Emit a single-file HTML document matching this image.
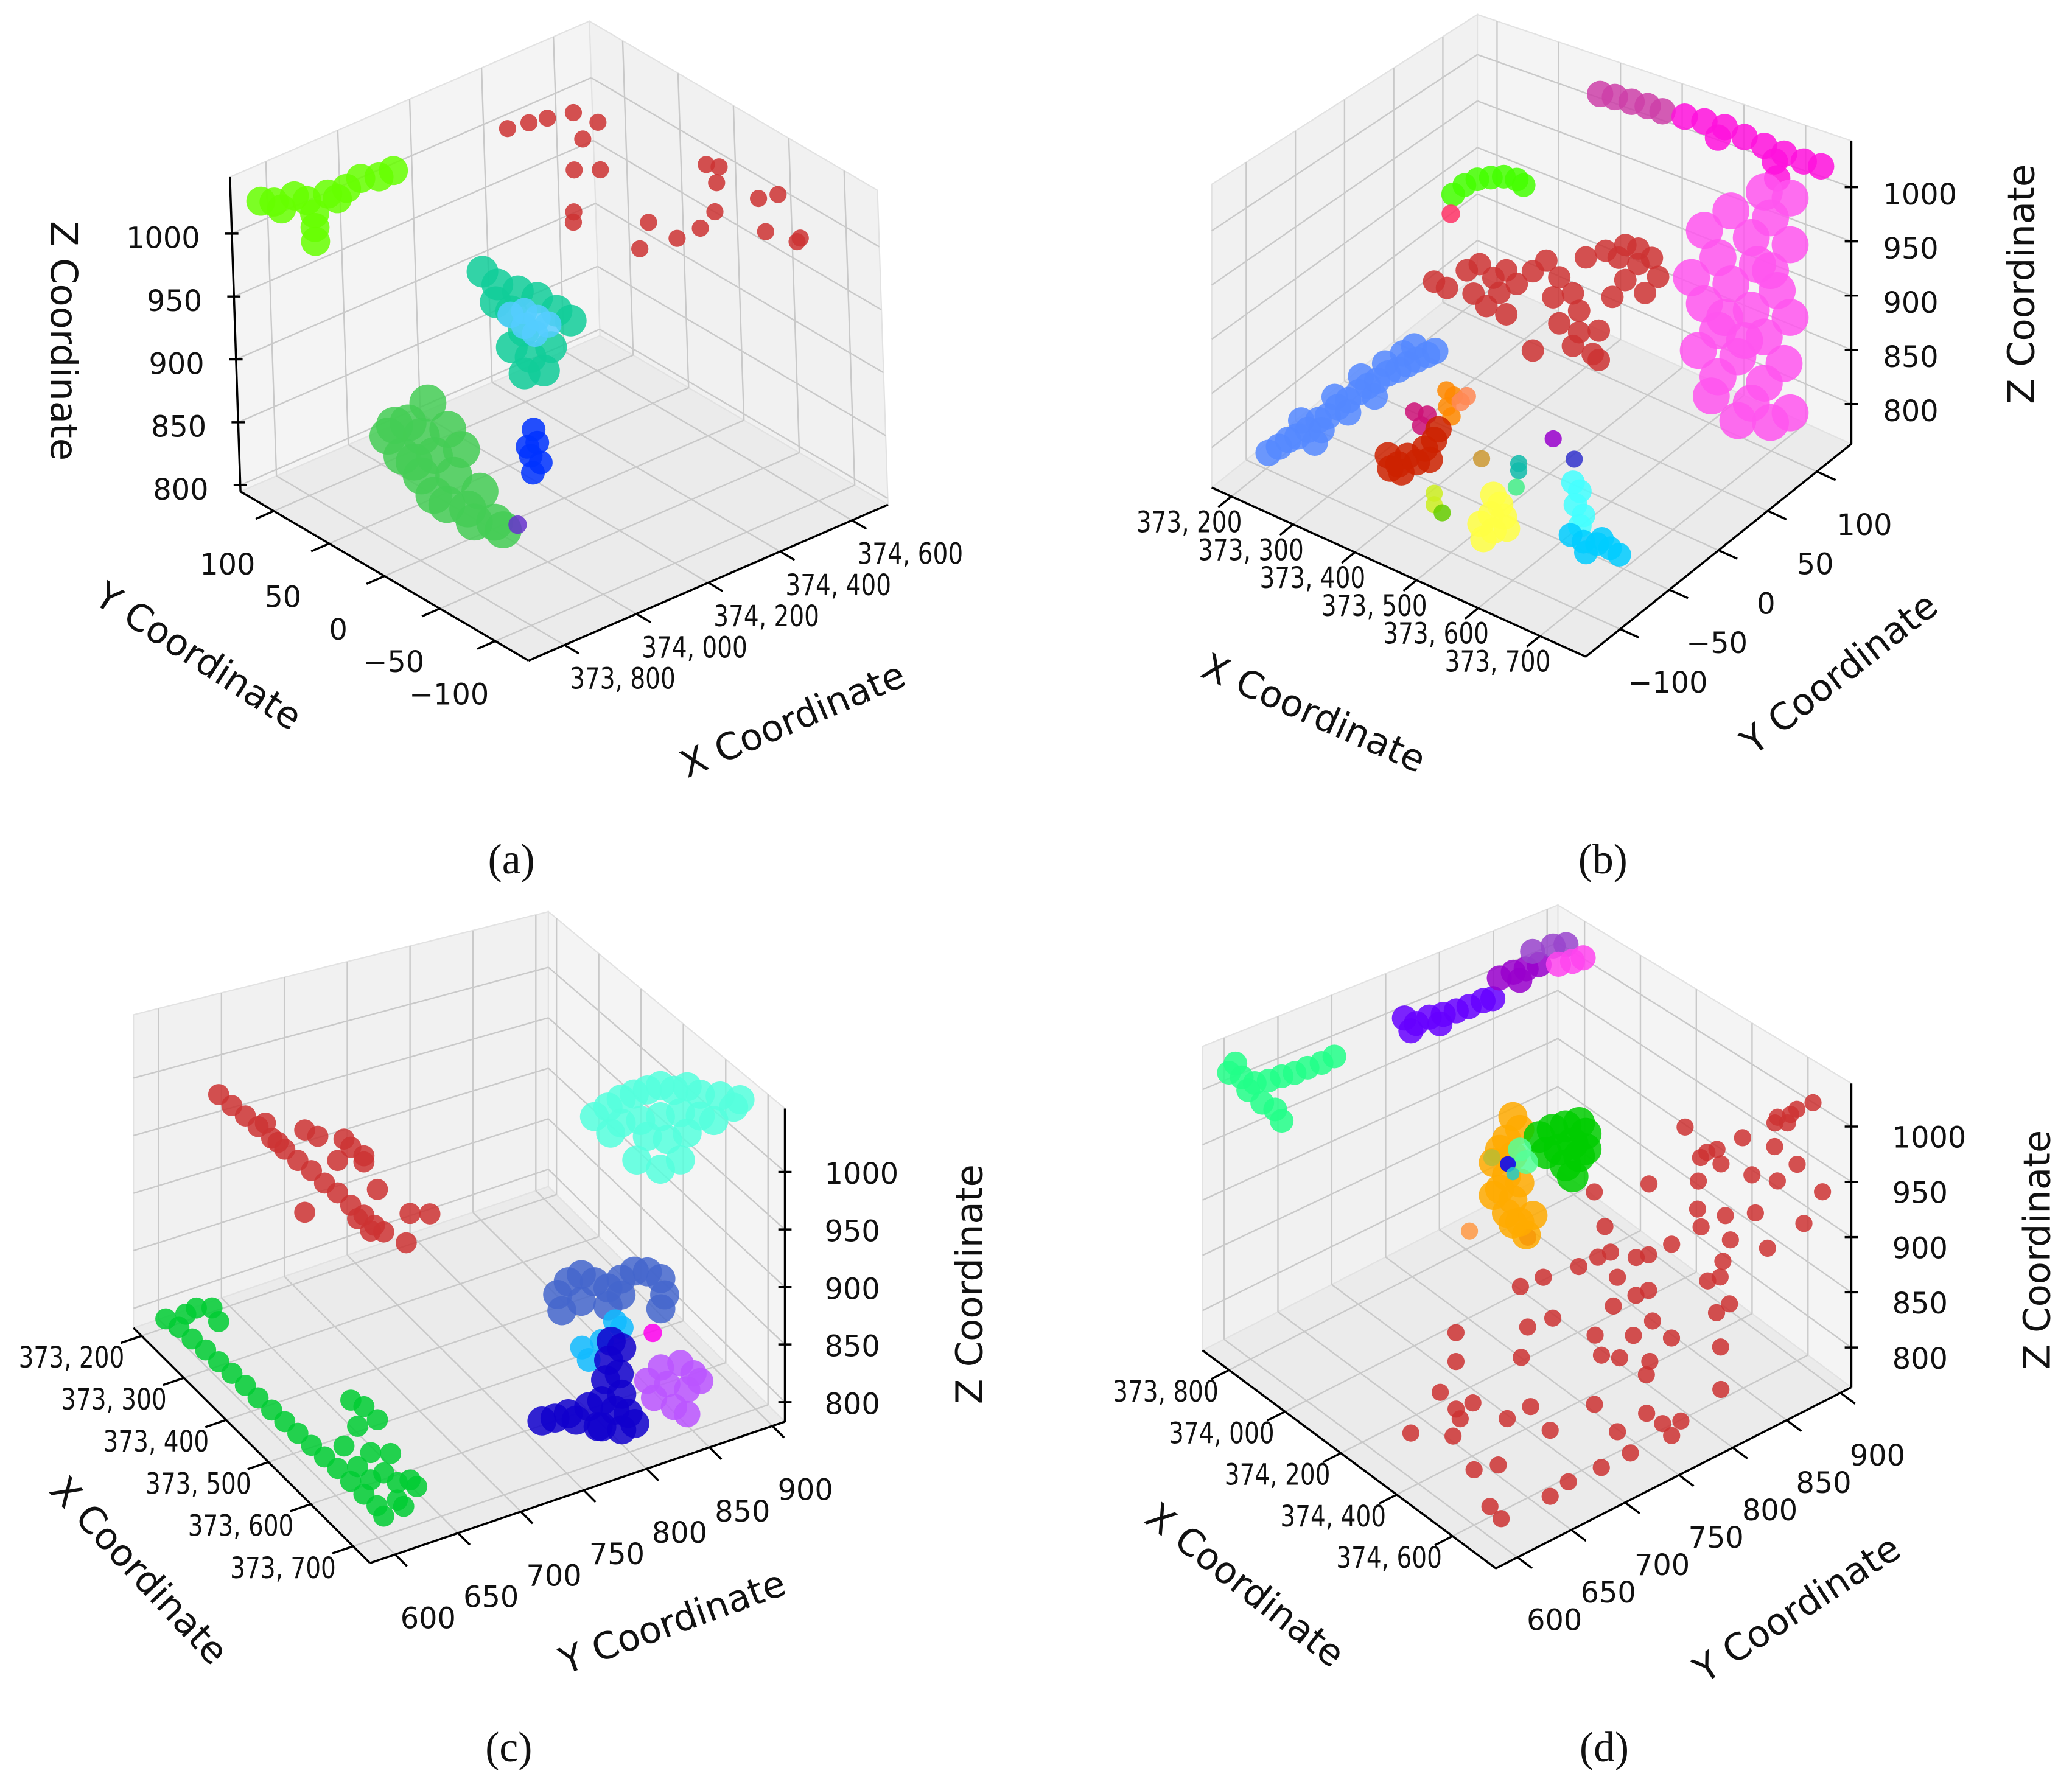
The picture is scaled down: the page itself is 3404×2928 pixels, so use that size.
<!DOCTYPE html>
<html><head><meta charset="utf-8"><style>
html,body{margin:0;padding:0;background:#fff;}
svg{display:block;}
</style></head><body>
<svg id="fig" xmlns="http://www.w3.org/2000/svg" width="3404" height="2928" viewBox="0 0 1568 1348.7">
<rect x="0" y="0" width="1568" height="1348.7" fill="#fff"/>
</svg>
<script>
// ---------- Panel (a) data ----------
const aXTicks=[373800,374000,374200,374400,374600];
const aYTicks=[-100,-50,0,50,100];
const aZTicks=[800,850,900,950,1000];
const aRed=[[374320,81,1032],[374370,78,1032],[374412,75,1032],[374469,70,1032],[374482,52,1032],[374412,43,1032],[374314,19,1032],[374199,-18,1032],[374170,-27,1032],[374356,9,1032],[374204,-76,1032],[374292,-81,1032],[374357,-81,1032],[374425,-72,1032],[374507,-47,1032],[374540,-27,1032],[374554,-34,1032],[374531,-77,1032],[374573,-81,1032],[374452,-109,1032],[374475,-130,1032],[374490,-128,1032],[374290,-56,1032]];
const aLime=[[373744,117,1027],[373836,117,1020],[373928,117,1010],[374020,117,1011],[374110,117,1006],[373800,117,1014],[373890,117,999],[373890,117,977],[373954,117,1003],[373780,117,1022],[373870,117,1012],[373980,117,1008],[374070,117,1006],[373890,117,988]];
const aTeal=[[374226,77,932],[374215,60,932],[374229,46,932],[374242,33,932],[374238,14,932],[374234,0,932],[374164,31,932],[374131,9,932],[374067,-1,932],[374070,-17,932],[374016,-29,932],[374055,-34,932],[374130,-16,932],[374164,45,932]];
const aLightBlue=[[374153,28,932],[374185,26,932],[374188,15,932],[374187,5,932],[374145,13,932],[374141,2,932]];
const aGreen=[[374073,80,845],[373987,70,845],[373919,66,845],[373972,53,845],[374033,49,845],[373887,43,845],[373940,31,845],[374000,26,845],[373864,18,845],[373917,6,845],[373916,-18,845],[373831,-4,845],[373848,-29,845],[373855,-51,845],[373848,-61,845],[373959,73,845],[373890,33,845],[373827,-17,845],[373823,-43,845]];
const aBlue=[[374170,16,845],[374140,3,845],[374094,-6,845],[374091,-16,845],[374051,-22,845],[374113,3,845]];
const aPurple=[[373885,-62,845]];

// ---------- Panel (b) data ----------
const bXTicks=[373200,373300,373400,373500,373600,373700];
const bYTicks=[-100,-50,0,50,100];
const bZTicks=[800,850,900,950,1000];
const bViolet=[[373410,108,1031],[373434,108,1033],[373461,108,1034],[373487,108,1035],[373511,108,1035]];
const bMagenta=[[373547,108,1037],[373579,108,1039],[373612,108,1040],[373644,108,1037],[373676,108,1035],[373708,108,1034],[373740,108,1033],[373768,108,1034],[373693,108,1024],[373601,108,1028],[373697,108,1009]];
const bPink=[[373676,108,992],[373718,108,995],[373622,108,963],[373686,108,970],[373579,108,935],[373655,108,945],[373718,108,952],[373601,108,914],[373665,108,922],[373558,108,885],[373622,108,894],[373697,108,905],[373579,108,865],[373655,108,877],[373718,108,885],[373601,108,845],[373676,108,857],[373569,108,818],[373633,108,828],[373708,108,840],[373601,108,801],[373676,108,814],[373590,108,780],[373655,108,790],[373718,108,797],[373633,108,768],[373686,108,780],[373612,108,860],[373686,108,921],[373644,108,846]];
const bLime=[[373215,81,903],[373233,81,917],[373254,81,928],[373276,81,935],[373297,81,941],[373318,81,943],[373329,81,940]];
const bPinkRed=[[373211,81,882]];
const bRed=[[373270,27,868],[373291,27,867],[373323,27,892],[373344,27,903],[373366,27,895],[373387,27,907],[373334,27,872],[373376,27,883],[373404,27,898],[373355,27,865],[373387,27,865],[373430,27,916],[373452,27,931],[373473,27,920],[373495,27,910],[373463,27,899],[373516,27,948],[373505,27,896],[373548,27,961],[373569,27,959],[373601,27,960],[373623,27,970],[373633,27,955],[373580,27,941],[373612,27,936],[373559,27,921],[373473,27,877],[373505,27,876],[373537,27,885],[373495,27,861],[373527,27,861],[373537,27,858],[373430,27,841],[373580,27,973],[373601,27,974]];
const bBlue=[[373217,-108,788],[373234,-108,798],[373249,-108,808],[373264,-108,815],[373281,-108,825],[373298,-108,838],[373313,-108,845],[373329,-108,857],[373346,-108,867],[373363,-108,878],[373378,-108,887],[373393,-108,895],[373410,-108,905],[373427,-108,912],[373442,-108,920],[373457,-108,927],[373474,-108,935],[373487,-108,941],[373270,-108,831],[373303,-108,830],[373324,-108,865],[373367,-108,893],[373406,-108,913],[373435,-108,928],[373453,-108,938],[373389,-108,880],[373346,-108,856],[373292,-108,816]];
const bDarkMagenta=[[373431,-94,867],[373452,-94,869],[373442,-94,857]];
const bOrange=[[373483,-94,897],[373495,-94,895],[373484,-94,883],[373491,-94,876]];
const bSalmon=[[373506,-94,892],[373516,-94,899]];
const bDarkRed=[[373388,-94,818],[373405,-94,814],[373420,-94,825],[373435,-94,823],[373448,-94,838],[373463,-94,849],[373470,-94,860],[373410,-94,808],[373392,-94,807],[373456,-94,830]];
const bGold=[[373540,-94,850]];
const bTeal=[[373600,-94,859],[373600,-94,853]];
const bMint=[[373596,-94,838]];
const bPurple=[[373656,-94,892]];
const bNavy=[[373690,-94,882]];
const bYellowGreen=[[373463,-94,802],[373463,-94,792]];
const bGreen=[[373476,-94,788]];
const bYellow=[[373559,-94,823],[373570,-94,817],[373555,-94,805],[373576,-94,808],[373538,-94,793],[373559,-94,792],[373543,-94,781],[373581,-94,799]];
const bCyan=[[373688,-94,862],[373699,-94,857],[373692,-94,844],[373705,-94,838],[373699,-94,828]];
const bSky=[[373684,-94,817],[373705,-94,816],[373727,-94,819],[373748,-94,820],[373763,-94,818],[373709,-94,808],[373735,-94,825]];

// ---------- Panel (c) data ----------
const cXTicks=[373200,373300,373400,373500,373600,373700];
const cYTicks=[600,650,700,750,800,850,900];
const cZTicks=[800,850,900,950,1000];
const cRed=[[373332,597,1028],[373363,597,1028],[373395,597,1029],[373425,597,1029],[373457,597,1029],[373488,597,1029],[373519,597,1029],[373551,597,1030],[373582,597,1029],[373613,597,1030],[373644,597,1029],[373675,597,1030],[373700,597,1029],[373722,597,1030],[373691,597,1022],[373660,597,1023],[373442,597,1037],[373472,597,1030],[373437,630,1021],[373468,630,1025],[373530,630,1041],[373546,630,1039],[373577,630,1041],[373515,630,1019],[373437,630,952],[373686,630,1026],[373733,630,1039],[373677,630,1000],[373577,630,1036],[373609,630,1023]];
const cGreen=[[373207,597,794],[373238,597,798],[373269,597,799],[373301,597,801],[373332,597,802],[373363,597,803],[373395,597,804],[373425,597,804],[373457,597,805],[373488,597,806],[373519,597,807],[373551,597,808],[373582,597,809],[373613,597,810],[373644,597,810],[373675,597,810],[373706,597,811],[373722,597,808],[373254,597,815],[373279,597,829],[373316,597,842],[373332,597,836],[373546,630,832],[373577,630,837],[373562,630,816],[373609,630,837],[373530,630,789],[373593,630,805],[373562,630,783],[373624,630,799],[373656,630,802],[373686,630,814],[373702,630,814],[373656,630,788],[373593,630,783],[373640,630,820],[373671,630,788]];
const cAqua=[[373388,877,942],[373420,877,962],[373451,877,980],[373482,877,995],[373513,877,1009],[373544,877,1023],[373576,877,1029],[373607,877,1042],[373638,877,1045],[373685,877,1058],[373717,877,1058],[373732,877,1069],[373451,877,958],[373497,877,976],[373544,877,995],[373591,877,1014],[373638,877,1026],[373513,877,967],[373560,877,980],[373607,877,1001],[373488,877,937],[373544,877,948],[373591,877,972],[373670,877,1032],[373426,877,940]];
const cBlue=[[373424,844,815],[373455,844,833],[373486,844,838],[373518,844,844],[373549,844,863],[373580,844,881],[373611,844,891],[373643,844,896],[373652,844,885],[373643,844,870],[373409,844,783],[373455,844,809],[373518,844,828],[373549,844,849],[373399,844,794]];
const cSky=[[373680,795,888],[373696,795,888],[373602,795,839],[373618,795,834],[373649,795,861]];
const cMagenta=[[373722,811,887]];
const cNavy=[[373671,795,868],[373696,795,871],[373665,795,850],[373690,795,847],[373658,795,831],[373696,795,832],[373649,795,810],[373680,795,813],[373711,795,821],[373618,795,794],[373649,795,788],[373696,795,802],[373727,795,818],[373640,795,785],[373718,745,840],[373687,745,826],[373656,745,813],[373737,745,841]];
const cViolet=[[373643,844,819],[373689,844,839],[373720,844,841],[373658,844,810],[373705,844,822],[373627,844,787],[373674,844,796],[373705,844,801],[373736,844,840],[373611,844,796]];

// ---------- Panel (d) data ----------
const dXTicks=[373800,374000,374200,374400,374600];
const dYTicks=[600,650,700,750,800,850,900];
const dZTicks=[800,850,900,950,1000];
const dSpring=[[373757,591,1019],[373757,603,1010],[373757,615,1000],[373757,628,997],[373757,640,996],[373757,652,994],[373757,664,994],[373757,677,993],[373757,689,994],[373757,609,996],[373757,622,979],[373757,634,968],[373757,640,955],[373757,597,1025]];
const dIndigo=[[373757,754,1003],[373757,765,993],[373757,777,994],[373757,790,991],[373757,802,989],[373757,814,988],[373757,827,988],[373757,836,986],[373757,760,988],[373757,787,983]];
const dPurple=[[373757,842,1004],[373757,855,1004],[373757,867,1002],[373757,879,1001],[373757,861,993]];
const dOrchid=[[373757,873,1017],[373757,892,1014],[373757,904,1010]];
const dPink=[[373757,897,993],[373757,910,990],[373757,920,989]];
const dOrange=[[373798,844,872],[373823,844,864],[373775,844,845],[373751,844,830],[373798,844,833],[373728,844,812],[373775,844,808],[373823,844,811],[373751,844,790],[373798,844,789],[373775,844,771],[373823,844,772],[373846,844,764],[373798,844,765],[373870,844,788],[373728,844,779]];
const dLightOrange=[[373770,811,770]];
const dOlive=[[373723,844,816]];
const dGreen=[[373893,844,870],[373940,844,886],[373987,844,898],[374035,844,910],[374059,844,904],[374012,844,886],[373964,844,871],[373917,844,859],[374035,844,878],[373987,844,860],[374012,844,854],[374059,844,889]];
const dMint=[[373823,844,844],[373846,844,836]];
const dBlue=[[373780,844,821]];
const dCyan=[[373798,844,815]];
const dRed=[[374664,898,1012],[374664,883,1012],[374673,875,1012],[374664,865,1012],[374574,886,984],[374592,893,984],[374264,883,929],[374381,906,929],[374654,865,984],[374382,882,929],[374377,874,929],[374385,866,929],[374435,872,929],[374746,862,984],[374515,880,929],[374571,889,929],[374458,845,929],[374397,815,929],[374671,905,929],[374344,778,929],[374548,821,929],[374609,831,929],[374643,850,929],[374747,868,929],[374329,881,847],[374189,828,847],[374411,887,847],[374490,901,847],[374339,851,847],[374110,777,847],[374275,811,847],[374328,821,847],[374338,830,847],[374272,800,847],[374465,866,847],[374273,782,847],[374254,754,847],[374361,795,847],[374509,852,847],[374503,842,847],[374249,734,847],[374443,791,847],[374446,802,847],[374443,770,847],[374604,836,847],[374392,727,847],[374383,706,847],[374545,780,847],[374612,822,847],[374505,737,847],[374561,758,847],[374624,777,847],[374296,662,847],[374279,727,792],[374389,773,792],[374423,781,792],[374477,795,792],[374511,783,792],[374538,845,792],[374662,813,792],[374196,688,792],[374263,656,792],[374341,666,792],[374335,652,792],[374437,673,792],[374436,695,792],[374522,732,792],[374624,754,792],[374677,755,792],[374725,751,792],[374533,688,792],[374635,724,792],[374339,609,792],[374409,630,792],[374716,715,792],[374716,688,792],[374538,616,792],[374559,633,792],[374710,659,792],[374726,638,792],[374668,597,792],[374720,594,792],[374369,647,792],[374696,767,792]];

// ---------- rendering ----------
const svg=document.getElementById('fig');
const NSURI=svg.namespaceURI;
function mk(tag,parent){const e=document.createElementNS(NSURI,tag);parent.appendChild(e);return e;}
function at(e,o){for(const k in o)e.setAttribute(k,o[k]);}
function fmtX(v){const t=Math.floor(v/1000),r=v%1000;return t+', '+String(r).padStart(3,'0');}
function fmtN(v){return v<0?'\u2212'+(-v):String(v);}

function makePanel(cfg){
  const xr=cfg.xmax-cfg.xmin,yr=cfg.ymax-cfg.ymin,zr=cfg.zmax-cfg.zmin;
  function P(nx,ny,nz){
    if(cfg.type==='aff'){
      return [cfg.O[0]+nx*cfg.ex[0]+ny*cfg.ey[0]+nz*cfg.ez[0],cfg.O[1]+nx*cfg.ex[1]+ny*cfg.ey[1]+nz*cfg.ez[1]];
    }
    const a=1-nx,b=ny;const L=cfg.L0-cfg.L1*(a+b)/2;
    return [cfg.F[0]-a*cfg.ex[0]+b*cfg.ey[0],cfg.F[1]-a*cfg.ex[1]+b*cfg.ey[1]-nz*L];
  }
  const sx=v=>(v-cfg.xmin)/xr, sy=v=>(v-cfg.ymin)/yr, sz=v=>(v-cfg.zmin)/zr;
  return {P,sx,sy,sz};
}

function drawPanel(cfg,id,xt,yt,zt,clusters,labels){
  const g=mk('g',svg);
  
  
  const pr=makePanel(cfg);const P=pr.P;
  const yA=cfg.yAxisNx, fx=1-yA;
  const pts=a=>a.map(p=>p.map(v=>v.toFixed(1)).join(',')).join(' ');
  const floor=mk('polygon',g);
  
  
  at(floor,{points:pts([P(0,0,0),P(1,0,0),P(1,1,0),P(0,1,0)]),fill:'#ebebeb',stroke:'#e2e2e2','stroke-width':1});
  const pane1=mk('polygon',g);
  
  
  at(pane1,{points:pts([P(fx,0,0),P(fx,1,0),P(fx,1,1),P(fx,0,1)]),fill:'#f1f1f1',stroke:'#e2e2e2','stroke-width':1});
  const pane2=mk('polygon',g);
  
  
  at(pane2,{points:pts([P(0,1,0),P(1,1,0),P(1,1,1),P(0,1,1)]),fill:'#f4f4f4',stroke:'#e2e2e2','stroke-width':1});
  const grid=mk('g',g);
  
  
  at(grid,{stroke:'#c9c9c9','stroke-width':1.1,fill:'none'});
  function line(par,p,q,name){const l=mk('line',par);at(l,{x1:p[0].toFixed(1),y1:p[1].toFixed(1),x2:q[0].toFixed(1),y2:q[1].toFixed(1)});return l;}
  xt.forEach(v=>{const t=pr.sx(v);line(grid,P(t,0,0),P(t,1,0),'grid-x');line(grid,P(t,1,0),P(t,1,1),'grid-x');});
  yt.forEach(v=>{const t=pr.sy(v);line(grid,P(0,t,0),P(1,t,0),'grid-y');line(grid,P(fx,t,0),P(fx,t,1),'grid-y');});
  zt.forEach(v=>{const t=pr.sz(v);line(grid,P(fx,0,t),P(fx,1,t),'grid-z');line(grid,P(0,1,t),P(1,1,t),'grid-z');});
  const ax=mk('g',g);
  
  
  at(ax,{stroke:'#000','stroke-width':1.6,fill:'none'});
  line(ax,P(0,0,0),P(1,0,0),'x-axis-line');
  line(ax,P(yA,0,0),P(yA,1,0),'y-axis-line');
  line(ax,P(yA,1,0),P(yA,1,1),'z-axis-line');
  const tg=mk('g',g);
  
  
  at(tg,{'font-family':'"DejaVu Sans","Liberation Sans",sans-serif','font-size':22,fill:'#111'});
  function txt(par,x,y,s,anchor,name,extra){const t=mk('text',par);at(t,{x:x.toFixed(1),y:y.toFixed(1),'text-anchor':anchor});if(extra)at(t,extra);t.textContent=s;return t;}
  xt.forEach(v=>{const t=pr.sx(v);const p=P(t,0,0);line(ax,p,P(t,-0.05,0),'x-tick');
    txt(tg,p[0]+labels.x[0],p[1]+labels.x[1],fmtX(v),labels.x[2],'x-tick-label',{textLength:80,lengthAdjust:'spacingAndGlyphs'});});
  yt.forEach(v=>{const t=pr.sy(v);const p=P(yA,t,0);line(ax,p,P(yA===0?-0.05:1.05,t,0),'y-tick');
    txt(tg,p[0]+labels.y[0],p[1]+labels.y[1],fmtN(v),'middle','y-tick-label');});
  zt.forEach(v=>{const t=pr.sz(v);const p=P(yA,1,t);line(ax,[p[0]-5,p[1]],[p[0]+5,p[1]],'z-tick');
    txt(tg,p[0]+labels.z[0],p[1]+labels.z[1],fmtN(v),labels.z[2],'z-tick-label');});
  const tt=mk('g',g);
  
  
  at(tt,{'font-family':'"DejaVu Sans","Liberation Sans",sans-serif','font-size':28,fill:'#111'});
  [['x',labels.tx],['y',labels.ty],['z',labels.tz]].forEach(([k,c])=>{
    txt(tt,c[0],c[1],k.toUpperCase()+' Coordinate','middle',k+'-axis-title',{'dominant-baseline':'central',transform:'rotate('+c[2]+' '+c[0]+' '+c[1]+')'});
  });
  clusters.forEach(cl=>{
    const cg=mk('g',g);
    
    
    at(cg,{fill:cl.color,'fill-opacity':0.85});
    cl.data.forEach(d=>{
      const p=P(pr.sx(d[0]),pr.sy(d[1]),pr.sz(d[2]));
      const c=mk('circle',cg);
      
      
      at(c,{cx:p[0].toFixed(1),cy:p[1].toFixed(1),r:cl.r});
    });
  });
  txt(g,labels.cap[0],labels.cap[1],'('+id+')','middle','caption-'+id,{'font-family':'"Liberation Serif",serif','font-size':32,fill:'#111'});
}

drawPanel({type:'aff',O:[400,500],ex:[272,-118],ey:[-218,-128],ez:[-8,-238],xmin:373700,xmax:374700,ymin:-130,ymax:130,zmin:795,zmax:1045,yAxisNx:0},
 'a',aXTicks,aYTicks,aZTicks,[
  {name:'red',color:'#cc3333',r:6.5,data:aRed},
  {name:'lime',color:'#66ff00',r:11,data:aLime},
  {name:'teal',color:'#11cc99',r:12,data:aTeal},
  {name:'light-blue',color:'#55ccff',r:10,data:aLightBlue},
  {name:'green',color:'#44cc55',r:14,data:aGreen},
  {name:'blue',color:'#0033ff',r:9,data:aBlue},
  {name:'purple',color:'#6633cc',r:7,data:aPurple}],
 {x:[44,33,'middle'],y:[-35,48],z:[-24,11,'end'],tx:[600,545,-23],ty:[150,497,33],tz:[48,258,90],cap:[387,661]});

drawPanel({type:'per',F:[1200,497],ex:[283,128],ey:[201,-161],L0:262,L1:65,xmin:373168,xmax:373774,ymin:-135,ymax:135,zmin:763,zmax:1043,yAxisNx:1},
 'b',bXTicks,bYTicks,bZTicks,[
  {name:'violet',color:'#cc3fa8',r:10,data:bViolet},
  {name:'magenta',color:'#ff11dd',r:10,data:bMagenta},
  {name:'pink',color:'#ff55ee',r:14,data:bPink},
  {name:'lime',color:'#44ff00',r:9,data:bLime},
  {name:'pink-red',color:'#ff3366',r:7,data:bPinkRed},
  {name:'red',color:'#cc3333',r:8.5,data:bRed},
  {name:'blue',color:'#5588ff',r:10,data:bBlue},
  {name:'dark-magenta',color:'#cc1177',r:7,data:bDarkMagenta},
  {name:'orange',color:'#ff8800',r:7,data:bOrange},
  {name:'salmon',color:'#ff8855',r:7,data:bSalmon},
  {name:'dark-red',color:'#cc2200',r:10,data:bDarkRed},
  {name:'gold',color:'#cc9933',r:6.5,data:bGold},
  {name:'teal',color:'#11bbaa',r:6.5,data:bTeal},
  {name:'mint',color:'#44ee88',r:6.5,data:bMint},
  {name:'purple',color:'#9900cc',r:6.5,data:bPurple},
  {name:'navy',color:'#3333cc',r:6.5,data:bNavy},
  {name:'yellow-green',color:'#ccee22',r:6.5,data:bYellowGreen},
  {name:'green',color:'#66cc00',r:6.5,data:bGreen},
  {name:'yellow',color:'#ffff44',r:10,data:bYellow},
  {name:'cyan',color:'#44ffff',r:9,data:bCyan},
  {name:'sky',color:'#00ccff',r:9,data:bSky}],
 {x:[8,27,'end'],y:[36,48],z:[24,13,'start'],tx:[994,540,24],ty:[1392,510,-38],tz:[1530,215,-90],cap:[1213,661]});

drawPanel({type:'per',F:[280,1183],ex:[179,178],ey:[314,-107],L0:266,L1:58,xmin:373181,xmax:373740,ymin:580,ymax:910,zmin:783,zmax:1055,yAxisNx:1},
 'c',cXTicks,cYTicks,cZTicks,[
  {name:'red',color:'#cc3333',r:8,data:cRed},
  {name:'green',color:'#00cc33',r:8,data:cGreen},
  {name:'aqua',color:'#55ffdd',r:11,data:cAqua},
  {name:'blue',color:'#4466cc',r:11,data:cBlue},
  {name:'sky',color:'#11bbff',r:9,data:cSky},
  {name:'magenta',color:'#ff00ee',r:7,data:cMagenta},
  {name:'navy',color:'#1100cc',r:11,data:cNavy},
  {name:'violet',color:'#bb55ff',r:10,data:cViolet}],
 {x:[-13,24,'end'],y:[25,56],z:[30,9,'start'],tx:[105,1189,47],ty:[509,1228,-20],tz:[734,972,-90],cap:[385,1333]});

drawPanel({type:'per',F:[1132,1187],ex:[222,165],ey:[269,-137],L0:260,L1:60,xmin:373705,xmax:374755,ymin:580,ymax:910,zmin:764,zmax:1039,yAxisNx:1},
 'd',dXTicks,dYTicks,dZTicks,[
  {name:'red',color:'#cc3333',r:6.5,data:dRed},
  {name:'spring-green',color:'#22ff88',r:9,data:dSpring},
  {name:'indigo',color:'#6600ff',r:9.5,data:dIndigo},
  {name:'purple',color:'#9900cc',r:9.5,data:dPurple},
  {name:'orchid',color:'#9944cc',r:9.5,data:dOrchid},
  {name:'pink',color:'#ff44ee',r:9.5,data:dPink},
  {name:'orange',color:'#ffaa00',r:11,data:dOrange},
  {name:'light-orange',color:'#ff9944',r:6.5,data:dLightOrange},
  {name:'olive',color:'#bbbb33',r:6.5,data:dOlive},
  {name:'green',color:'#00cc00',r:12,data:dGreen},
  {name:'mint',color:'#55ff99',r:9,data:dMint},
  {name:'blue',color:'#0000ff',r:6,data:dBlue},
  {name:'cyan',color:'#22cccc',r:5,data:dCyan}],
 {x:[-8,24,'end'],y:[28,55],z:[31,16,'start'],tx:[942,1200,38],ty:[1360,1218,-33],tz:[1542,946,-90],cap:[1214,1333]});
</script>
</body></html>
